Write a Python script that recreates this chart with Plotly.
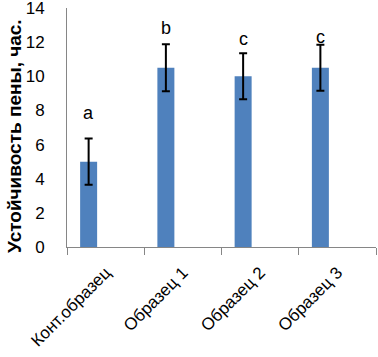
import plotly.graph_objects as go

categories = ["Конт.образец", "Образец 1", "Образец 2", "Образец 3"]
values = [5.0, 10.5, 10.0, 10.5]
errors = [1.35, 1.37, 1.35, 1.35]
letters = ["a", "b", "c", "c"]
letter_y = [7.85, 12.8, 12.2, 12.3]
y_ticks = [0, 2, 4, 6, 8, 10, 12, 14]

FONT = "Liberation Sans"

fig = go.Figure()
fig.add_trace(go.Bar(
    x=categories, y=values,
    width=0.22, offset=-0.33,
    marker=dict(color="#4F81BD", line=dict(width=0)),
    error_y=dict(type="data", array=errors, visible=True,
                 color="black", thickness=2, width=4),
))

for c, l, ly in zip(categories, letters, letter_y):
    fig.add_annotation(x=c, y=ly, text=l, showarrow=False, xshift=-17,
                       font=dict(family=FONT, size=18, color="black"),
                       yanchor="middle")

fig.add_annotation(xref="paper", yref="paper", x=-0.168, y=0.465,
                   text="<b>Устойчивость пены, час.</b>", textangle=-90,
                   showarrow=False, xanchor="center", yanchor="middle",
                   font=dict(family=FONT, size=19, color="black"))

fig.update_layout(
    width=378, height=357,
    margin=dict(l=67, r=2, t=8, b=110),
    plot_bgcolor="white", paper_bgcolor="white",
    showlegend=False,
    font=dict(family=FONT, size=16, color="black"),
    xaxis=dict(showline=True, linecolor="#868686", linewidth=1,
               ticks="outside", tickson="boundaries", ticklen=7,
               tickcolor="#868686", tickangle=-45, showgrid=False,
               automargin=False, ticklabelstandoff=8,
               tickfont=dict(family=FONT, size=17)),
    yaxis=dict(range=[0, 14], tickvals=y_ticks, showline=True,
               linecolor="#868686", linewidth=1, showgrid=False,
               zeroline=False, ticks="", ticklabelstandoff=18,
               automargin=False, ticklabeloverflow="allow",
               tickfont=dict(family=FONT, size=17)),
)

fig.write_html("out.html", config={"displayModeBar": False},
               post_script="document.body.style.margin='0';")
